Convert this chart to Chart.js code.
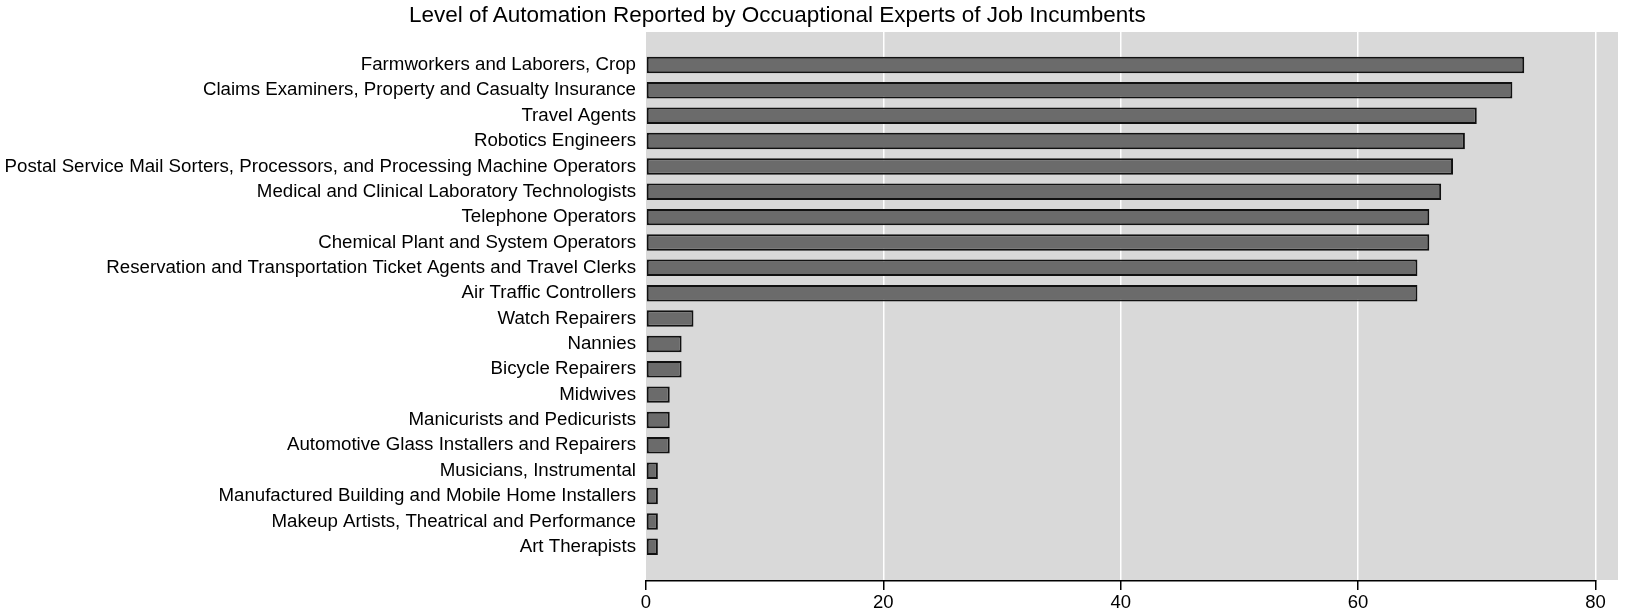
<!DOCTYPE html>
<html>
<head>
<meta charset="utf-8">
<script src="https://cdn.jsdelivr.net/npm/chart.js@4.4.1/dist/chart.umd.min.js"></script>
<style>
  html, body { margin: 0; padding: 0; background: #fff; }
  #wrap { position: relative; width: 1625px; height: 614px; }
  #title { position: absolute; left: 409px; top: 4px; font-family: "Liberation Sans", Arial, sans-serif; font-size: 22.5px; line-height: 22px; color: #000; white-space: nowrap; }
  canvas { position: absolute; left: 0; top: 0; }
</style>
</head>
<body>
<div id="wrap">
  <canvas id="c" width="1625" height="614"></canvas>
  <div id="title">Level of Automation Reported by Occuaptional Experts of Job Incumbents</div>
</div>
<script>
const categories = [
  "Farmworkers and Laborers, Crop",
  "Claims Examiners, Property and Casualty Insurance",
  "Travel Agents",
  "Robotics Engineers",
  "Postal Service Mail Sorters, Processors, and Processing Machine Operators",
  "Medical and Clinical Laboratory Technologists",
  "Telephone Operators",
  "Chemical Plant and System Operators",
  "Reservation and Transportation Ticket Agents and Travel Clerks",
  "Air Traffic Controllers",
  "Watch Repairers",
  "Nannies",
  "Bicycle Repairers",
  "Midwives",
  "Manicurists and Pedicurists",
  "Automotive Glass Installers and Repairers",
  "Musicians, Instrumental",
  "Manufactured Building and Mobile Home Installers",
  "Makeup Artists, Theatrical and Performance",
  "Art Therapists"
];
const values = [74, 73, 70, 69, 68, 67, 66, 66, 65, 65, 4, 3, 3, 2, 2, 2, 1, 1, 1, 1];
const xTicks = [0, 20, 40, 60, 80];

const FONT = "'Liberation Sans', Arial, sans-serif";

const bgPlugin = {
  id: 'bg',
  beforeDraw(chart) {
    const {ctx, chartArea: a} = chart;
    ctx.save();
    ctx.fillStyle = '#d9d9d9';
    ctx.fillRect(a.left, a.top, a.right - a.left, a.bottom - a.top);
    ctx.restore();
  },
  afterDraw(chart) {
    const {ctx, chartArea: a, scales} = chart;
    const x = scales.x;
    ctx.save();
    ctx.strokeStyle = '#000';
    ctx.lineWidth = 1.5;
    ctx.beginPath();
    ctx.moveTo(x.getPixelForValue(xTicks[0]) - 0.75, a.bottom + 0.75);
    ctx.lineTo(x.getPixelForValue(xTicks[xTicks.length - 1]) + 0.75, a.bottom + 0.75);
    ctx.stroke();
    ctx.restore();
  }
};

new Chart(document.getElementById('c'), {
  type: 'bar',
  data: {
    datasets: [{
      data: values.map((v, i) => ({x: v, y: i})),
      backgroundColor: '#6b6b6b',
      borderColor: '#111',
      borderWidth: 2,
      borderSkipped: false,
      categoryPercentage: 1,
      barPercentage: 0.65
    }]
  },
  options: {
    indexAxis: 'y',
    responsive: false,
    animation: false,
    devicePixelRatio: 1,
    layout: { padding: { top: 32, right: 7, bottom: 0, left: 0 } },
    plugins: { legend: { display: false }, tooltip: { enabled: false }, title: { display: false } },
    scales: {
      x: {
        type: 'linear',
        min: 0,
        max: 81.9,
        offset: false,
        bounds: 'data',
        afterFit(s) { s.height = 34; },
        afterBuildTicks(s) { s.ticks = xTicks.map(v => ({value: v})); },
        border: { display: false },
        grid: {
          color: ctx => (ctx.tick && ctx.tick.value === 0) ? 'rgba(0,0,0,0)' : '#ffffff',
          lineWidth: 1.5,
          drawTicks: true,
          tickLength: 10,
          tickColor: '#000',
          tickWidth: 1.5
        },
        ticks: {
          color: '#000',
          font: { family: FONT, size: 18.5 },
          padding: 2,
          maxRotation: 0
        }
      },
      y: {
        type: 'linear',
        reverse: true,
        offset: false,
        bounds: 'data',
        min: -1.3,
        max: 20.31,
        afterFit(s) { s.width = 646; },
        afterBuildTicks(s) { s.ticks = categories.map((c, i) => ({value: i})); },
        border: { display: false },
        grid: { display: false, drawTicks: false, offset: false },
        ticks: {
          autoSkip: false,
          color: '#000',
          font: { family: FONT, size: 18.7 },
          padding: 10,
          callback: v => categories[v]
        }
      }
    }
  },
  plugins: [bgPlugin]
});
</script>
</body>
</html>
